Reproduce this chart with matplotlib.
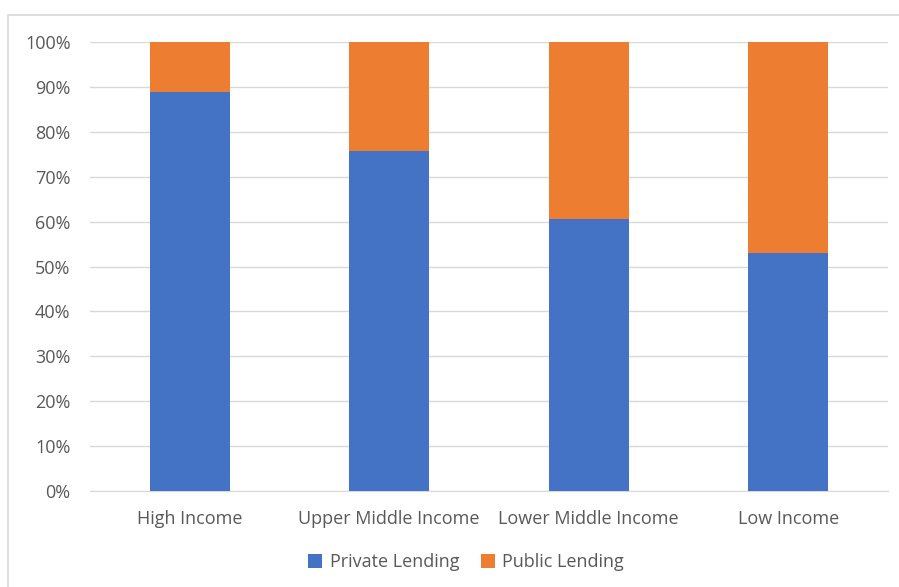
import numpy as np
import matplotlib.pyplot as plt
from matplotlib.patches import Rectangle
from matplotlib.ticker import PercentFormatter

categories = ['High Income', 'Upper Middle Income', 'Lower Middle Income', 'Low Income']
private = [88.9, 75.8, 60.6, 52.9]
public = [100 - v for v in private]

blue = '#4472C4'
orange = '#ED7D31'
grey_text = '#595959'

plt.rcParams['font.family'] = ['Open Sans', 'DejaVu Sans']

fig = plt.figure(figsize=(8.99, 5.87), dpi=100)
# chart area border
fig.patches.append(Rectangle((8 / 899, -0.01), 1.0, 1 - 15 / 587 + 0.01,
                             transform=fig.transFigure, fill=False,
                             edgecolor='#d9d9d9', linewidth=1.2))

ax = fig.add_axes([90 / 899, 1 - 491 / 587, 798 / 899, 449 / 587])
x = np.arange(len(categories))
ax.bar(x, private, width=0.4, color=blue, label='Private Lending', zorder=3)
ax.bar(x, public, width=0.4, bottom=private, color=orange, label='Public Lending', zorder=3)

ax.set_xlim(-0.5, 3.5)
ax.set_ylim(0, 100)
ax.set_yticks(np.arange(0, 101, 10))
ax.yaxis.set_major_formatter(PercentFormatter(decimals=0))
ax.set_xticks(x)
ax.set_xticklabels(categories)
ax.grid(axis='y', color='#d9d9d9', linewidth=1, zorder=0)
for s in ['top', 'right', 'left']:
    ax.spines[s].set_visible(False)
ax.spines['bottom'].set_color('#d9d9d9')
ax.tick_params(axis='both', length=0, labelsize=13, colors=grey_text)
ax.tick_params(axis='x', pad=14)
ax.tick_params(axis='y', pad=14)

leg = ax.legend(loc='center', bbox_to_anchor=(466 / 899, 1 - 562 / 587),
                bbox_transform=fig.transFigure, ncol=2, frameon=False,
                fontsize=13, handlelength=0.8, handleheight=0.8,
                handletextpad=0.4, columnspacing=1.2)
for t in leg.get_texts():
    t.set_color(grey_text)

plt.savefig('out.png', dpi=100)
